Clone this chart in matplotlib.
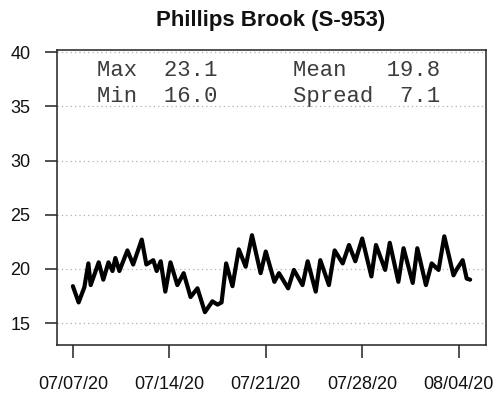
import datetime as dt
import matplotlib
matplotlib.use('Agg')
import matplotlib.pyplot as plt
import matplotlib.dates as mdates

# ----- donnees -----
start = dt.datetime(2020, 7, 7)
hours = [0, 10, 20, 27, 31, 45, 53, 62, 69, 74, 81, 95, 105, 120, 128, 140,
         146, 153, 161, 170, 182, 193, 205, 217, 230, 243, 252, 259, 267, 278,
         289, 301, 312, 327, 336, 351, 359, 375, 385, 400, 409, 423, 431, 446,
         456, 470, 481, 492, 504, 520, 528, 544, 552, 567, 576, 592, 600, 615,
         625, 637, 647, 663, 668, 679, 686, 692]
temps = [18.4, 16.9, 18.3, 20.5, 18.5, 20.6, 19.0, 20.6, 19.8, 21.0, 19.8,
         21.7, 20.4, 22.7, 20.4, 20.8, 19.8, 20.7, 17.9, 20.6, 18.5, 19.6,
         17.4, 18.2, 16.0, 17.0, 16.7, 16.9, 20.5, 18.4, 21.8, 20.2, 23.1,
         19.6, 21.6, 18.8, 19.6, 18.2, 19.9, 18.5, 20.7, 17.9, 20.8, 18.5,
         21.7, 20.5, 22.2, 20.7, 22.8, 19.3, 22.2, 19.9, 22.4, 18.8, 21.9,
         18.7, 21.9, 18.5, 20.5, 19.9, 23.0, 19.4, 19.9, 20.8, 19.1, 19.0]
tick_dates = ['2020-07-07', '2020-07-14', '2020-07-21', '2020-07-28', '2020-08-04']
y_ticks = [15, 20, 25, 30, 35, 40]
stats = {'Max': '23.1', 'Min': '16.0', 'Mean': '19.8', 'Spread': '7.1'}

times = [start + dt.timedelta(hours=h) for h in hours]

plt.rcParams['font.family'] = ['Liberation Sans', 'DejaVu Sans']

fig = plt.figure(figsize=(4.99, 3.95), dpi=100)
ax = fig.add_axes([0.1142, 0.1266, 0.8598, 0.7468])

for y in y_ticks:
    ax.axhline(y, color='#b0b0b0', lw=0.9, ls=(0, (1, 2.5)), zorder=1)

ax.plot(times, temps, color='black', lw=3.0, solid_joinstyle='round',
        solid_capstyle='round', zorder=3)

span = times[-1] - times[0]
ax.set_xlim(times[0] - span * 0.04, times[-1] + span * 0.04)
ax.set_ylim(12.97, 40.2)

ax.set_xticks([dt.datetime.strptime(d, '%Y-%m-%d') for d in tick_dates])
ax.xaxis.set_major_formatter(mdates.DateFormatter('%m/%d/%y'))
ax.set_yticks(y_ticks)
ax.tick_params(axis='both', direction='out', length=9, width=1.1,
               labelsize=13, color='#222222', labelcolor='#111111')
ax.tick_params(axis='x', pad=13)
ax.tick_params(axis='y', pad=10)
for s in ax.spines.values():
    s.set_linewidth(1.1)
    s.set_color('#222222')

mono = dict(family=['Liberation Mono', 'DejaVu Sans Mono'], fontsize=16,
            color='#3c3c3c', transform=ax.transAxes, va='center')
ax.text(0.093, 0.932, 'Max  ' + stats['Max'], ha='left', **mono)
ax.text(0.093, 0.844, 'Min  ' + stats['Min'], ha='left', **mono)
ax.text(0.549, 0.932, 'Mean   ' + stats['Mean'], ha='left', **mono)
ax.text(0.549, 0.844, 'Spread  ' + stats['Spread'], ha='left', **mono)

fig.text(0.543, 0.947, 'Phillips Brook (S-953)', ha='center', va='center',
         fontsize=16, fontweight='bold', color='#111111')

fig.savefig('out.png', dpi=100)
